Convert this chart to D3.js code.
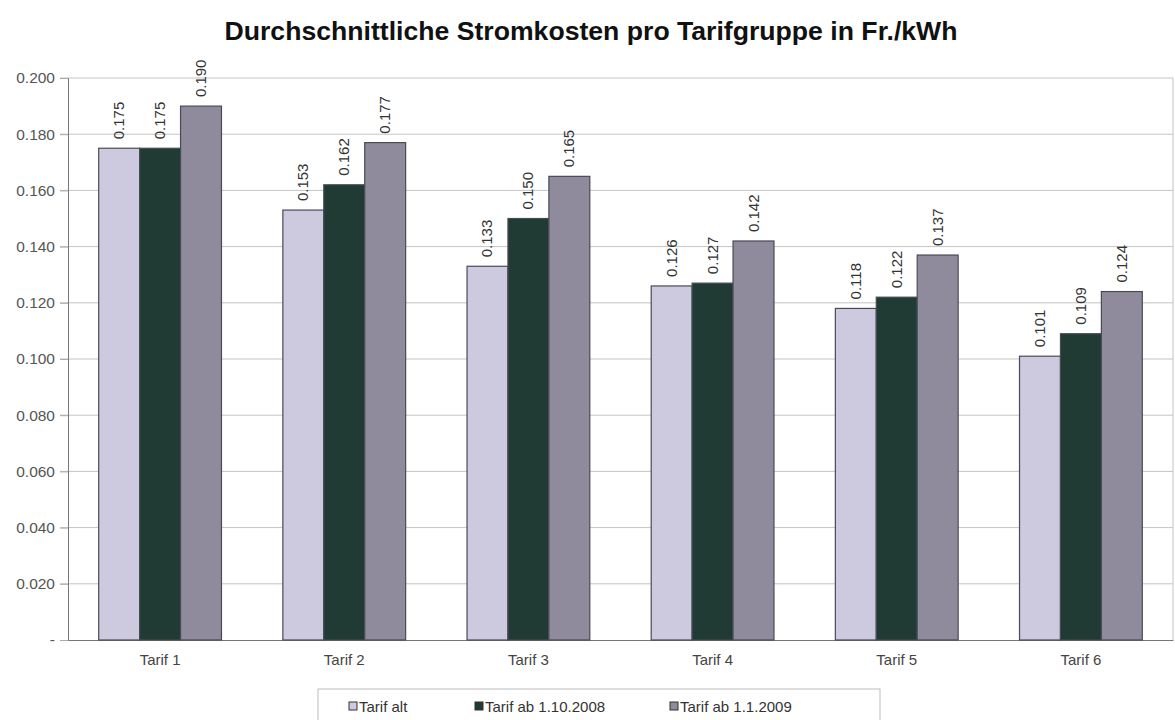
<!DOCTYPE html>
<html lang="de">
<head>
<meta charset="utf-8">
<title>Durchschnittliche Stromkosten pro Tarifgruppe</title>
<script src="https://cdn.jsdelivr.net/npm/d3@7"></script>
<style>
  body { margin: 0; background: #fff; }
  svg { font-family: "Liberation Sans", Arial, sans-serif; }
</style>
</head>
<body>
<div id="chart"></div>
<script>
// data
var categories = ["Tarif 1", "Tarif 2", "Tarif 3", "Tarif 4", "Tarif 5", "Tarif 6"];
var seriesNames = ["Tarif alt", "Tarif ab 1.10.2008", "Tarif ab 1.1.2009"];
var tarifAlt   = [0.175, 0.153, 0.133, 0.126, 0.118, 0.101];
var tarif2008  = [0.175, 0.162, 0.150, 0.127, 0.122, 0.109];
var tarif2009  = [0.190, 0.177, 0.165, 0.142, 0.137, 0.124];
var yTicks = [0, 0.02, 0.04, 0.06, 0.08, 0.10, 0.12, 0.14, 0.16, 0.18, 0.20];
var colors = ["#cdcadf", "#1f3b34", "#8f8b9d"];

var allSeries = [tarifAlt, tarif2008, tarif2009];

var W = 1175, H = 720;
var margin = {top: 78, right: 2, bottom: 80, left: 68};
var width = W - margin.left - margin.right,
    height = H - margin.top - margin.bottom;

var svg = d3.select("#chart").append("svg")
    .attr("width", W)
    .attr("height", H);

// title
svg.append("text")
    .attr("x", 591)
    .attr("y", 40)
    .attr("text-anchor", "middle")
    .attr("textLength", 733)
    .attr("lengthAdjust", "spacingAndGlyphs")
    .style("font-size", "25px")
    .style("font-weight", "bold")
    .style("fill", "#111")
    .text("Durchschnittliche Stromkosten pro Tarifgruppe in Fr./kWh");

var g = svg.append("g")
    .attr("transform", "translate(" + margin.left + "," + margin.top + ")");

var x0 = d3.scaleBand().domain(categories).range([0, width]).padding(0);
var x1 = d3.scaleBand().domain(d3.range(3)).range([0, x0.bandwidth()])
    .paddingInner(0).paddingOuter(0.75);
var y = d3.scaleLinear().domain([0, 0.2]).range([height, 0]);

// grid lines
g.append("g")
  .selectAll("line")
  .data(yTicks.filter(function(d) { return d > 0; }))
  .enter().append("line")
    .attr("x1", -8)
    .attr("x2", width)
    .attr("y1", function(d) { return y(d); })
    .attr("y2", function(d) { return y(d); })
    .style("stroke", "#c4c4c4")
    .style("stroke-width", 1);

// right border of plot
g.append("line")
    .attr("x1", width).attr("x2", width)
    .attr("y1", 0).attr("y2", height)
    .style("stroke", "#c4c4c4");

// y axis
var yAxis = g.append("g")
    .call(d3.axisLeft(y).tickValues(yTicks).tickSize(8)
      .tickFormat(function(d) { return d === 0 ? "-" : d3.format(".3f")(d); }));
yAxis.select(".domain").style("stroke", "#777");
yAxis.selectAll(".tick line").style("stroke", "#aaa");
yAxis.selectAll(".tick text")
    .attr("x", -13)
    .style("font-size", "15.5px")
    .style("font-family", "Liberation Sans, Arial, sans-serif")
    .style("fill", "#555");

// x axis
var xAxis = g.append("g")
    .attr("transform", "translate(0," + height + ")")
    .call(d3.axisBottom(x0).tickSize(0));
xAxis.select(".domain").style("stroke", "#777");
xAxis.selectAll(".tick text")
    .attr("dy", "1.45em")
    .style("font-size", "15px")
    .style("font-family", "Liberation Sans, Arial, sans-serif")
    .style("fill", "#444");

// bars
var groups = g.selectAll(".grp")
  .data(categories)
  .enter().append("g")
    .attr("class", "grp")
    .attr("transform", function(d) { return "translate(" + x0(d) + ",0)"; });

groups.selectAll("rect")
  .data(function(d, i) { return allSeries.map(function(s, k) { return {k: k, v: s[i]}; }); })
  .enter().append("rect")
    .attr("x", function(d) { return x1(d.k); })
    .attr("y", function(d) { return y(d.v); })
    .attr("width", x1.bandwidth())
    .attr("height", function(d) { return height - y(d.v); })
    .style("fill", function(d) { return colors[d.k]; })
    .style("stroke", "#4a4a55")
    .style("stroke-width", 1.2);

// value labels, rotated
groups.selectAll(".val")
  .data(function(d, i) { return allSeries.map(function(s, k) { return {k: k, v: s[i]}; }); })
  .enter().append("text")
    .attr("class", "val")
    .attr("transform", function(d) {
      return "translate(" + (x1(d.k) + x1.bandwidth() / 2 + 5) + "," + (y(d.v) - 9) + ") rotate(-90)";
    })
    .style("font-size", "15px")
    .style("fill", "#333")
    .text(function(d) { return d3.format(".3f")(d.v); });

// legend
var legend = svg.append("g").attr("transform", "translate(318,689)");
legend.append("rect")
    .attr("width", 562).attr("height", 40)
    .style("fill", "#fff")
    .style("stroke", "#bbb");

var legendX = [31, 157, 352];
var items = legend.selectAll(".item")
  .data(seriesNames)
  .enter().append("g")
    .attr("class", "item")
    .attr("transform", function(d, i) { return "translate(" + legendX[i] + ",0)"; });
items.append("rect")
    .attr("x", 0).attr("y", 13)
    .attr("width", 8).attr("height", 8)
    .style("fill", function(d, i) { return colors[i]; })
    .style("stroke", "#333");
items.append("text")
    .attr("x", 10).attr("y", 23)
    .style("font-size", "15px")
    .style("fill", "#333")
    .text(function(d) { return d; });
</script>
</body>
</html>
